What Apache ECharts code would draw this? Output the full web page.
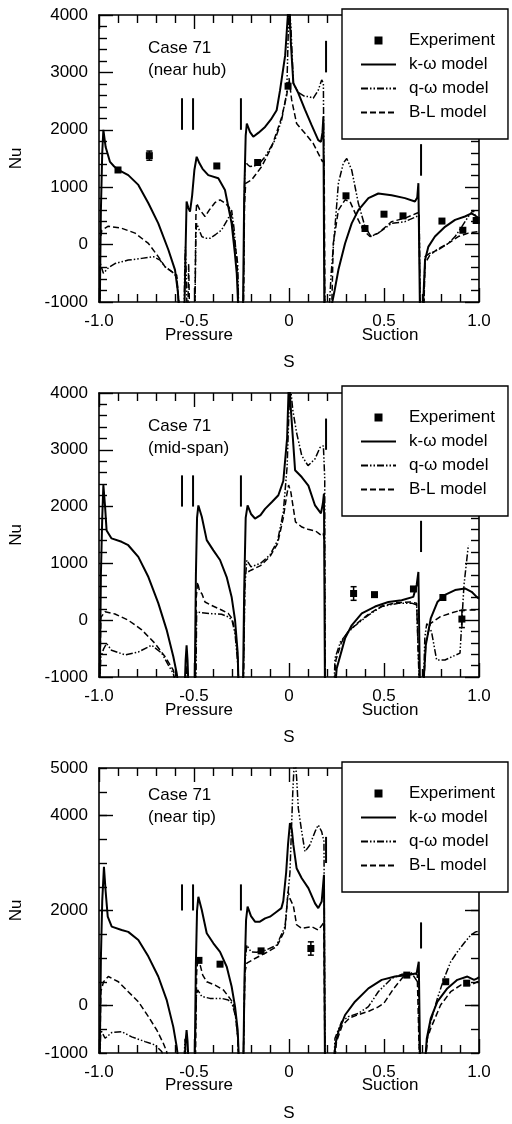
<!DOCTYPE html>
<html>
<head>
<meta charset="utf-8">
<script src="https://cdn.jsdelivr.net/npm/echarts@6/dist/echarts.min.js"></script>
<style>
html, body { margin: 0; padding: 0; background: #fff; }
#main { width: 512px; height: 1124px; }
</style>
</head>
<body>
<div id="main"></div>
<script>
// names shown in the legend
var seriesNames = ['Experiment', 'k-ω model', 'q-ω model', 'B-L model'];

// short vertical marks above the curves: [s, Nu from, Nu to]
var markers = [[-0.563, 2000, 2550], [-0.505, 2000, 2550], [-0.253, 2000, 2550], [0.195, 3000, 3550], [0.695, 1200, 1750]];

// ---- Case 71, near hub ----
var hubExp = [[-0.9,1300],[-0.735,1550],[-0.38,1370],[-0.165,1430],[-0.005,2760],[0.3,850],[0.4,280],[0.5,530],[0.6,500],[0.805,410],[0.915,250],[0.985,420]];
var hubErr = [[-0.735,1470,1630]];
var hubKW = [
  [-0.996,-1100],[-0.99,600],[-0.983,1600],[-0.977,2000],[-0.965,1700],[-0.942,1440],[-0.92,1360],[-0.898,1300],[-0.846,1210],[-0.793,1040],[-0.74,720],[-0.688,370],[-0.635,-90],[-0.6,-440],[-0.586,-790],[-0.578,-1100],
  [-0.55,-1100],[-0.545,-200],[-0.539,750],[-0.53,640],[-0.521,575],[-0.51,850],[-0.498,1300],[-0.486,1530],[-0.472,1420],[-0.455,1320],[-0.425,1210],[-0.372,1155],[-0.337,950],[-0.302,370],[-0.285,-150],[-0.275,-500],[-0.267,-1100],
  [-0.242,-1100],[-0.236,800],[-0.228,1900],[-0.222,2110],[-0.205,1960],[-0.188,1880],[-0.16,1950],[-0.126,2050],[-0.095,2180],[-0.065,2340],[-0.047,2690],[-0.02,3300],[0,4300],[0.01,3500],[0.023,2810],[0.049,2640],[0.084,2350],[0.119,2080],[0.154,1820],[0.168,1790],[0.176,1950],[0.181,2230],[0.186,-1100],
  [0.222,-1100],[0.24,-800],[0.26,-440],[0.295,20],[0.33,370],[0.365,600],[0.418,810],[0.47,890],[0.54,860],[0.61,810],[0.663,750],[0.675,820],[0.681,1070],[0.689,-1100],
  [0.705,-1100],[0.716,-270],[0.733,-40],[0.768,140],[0.821,310],[0.874,430],[0.926,490],[0.961,545],[0.987,490],[1.0,460]
];
var hubQW = [
  [-0.996,-1100],[-0.993,-330],[-0.977,-500],[-0.95,-400],[-0.916,-330],[-0.846,-270],[-0.775,-240],[-0.714,-210],[-0.679,-270],[-0.653,-385],[-0.617,-470],[-0.591,-560],[-0.58,-1100],
  [-0.552,-1100],[-0.548,-300],[-0.545,-40],[-0.541,-500],[-0.537,-1100],
  [-0.495,-1100],[-0.49,200],[-0.486,370],[-0.472,250],[-0.459,140],[-0.44,110],[-0.416,110],[-0.385,180],[-0.355,254],[-0.32,457],[-0.302,600],[-0.29,300],[-0.28,-100],[-0.27,-330],[-0.265,-1100],
  [-0.24,-1100],[-0.234,1000],[-0.232,1475],[-0.22,1400],[-0.206,1360],[-0.185,1370],[-0.162,1390],[-0.126,1530],[-0.074,1820],[-0.039,2170],[-0.012,2640],[0,4200],[0.01,3800],[0.023,2810],[0.05,2650],[0.084,2580],[0.102,2580],[0.128,2550],[0.154,2690],[0.172,2870],[0.181,2810],[0.188,-1100],
  [0.212,-1100],[0.222,-500],[0.242,310],[0.26,1070],[0.286,1420],[0.304,1500],[0.33,1300],[0.365,720],[0.4,310],[0.432,140],[0.47,200],[0.54,370],[0.61,400],[0.672,490],[0.685,520],[0.69,-1100],
  [0.708,-1100],[0.716,-210],[0.742,-150],[0.786,-90],[0.838,20],[0.874,140],[0.909,310],[0.944,490],[0.97,600],[0.985,450],[1.0,370]
];
var hubBL = [
  [-0.996,-1100],[-0.993,100],[-0.985,250],[-0.951,320],[-0.881,285],[-0.81,200],[-0.74,20],[-0.688,-210],[-0.653,-385],[-0.617,-470],[-0.591,-530],[-0.578,-1100],
  [-0.532,-1100],[-0.528,-330],[-0.524,-1100],
  [-0.495,-1100],[-0.49,500],[-0.486,720],[-0.47,610],[-0.442,490],[-0.42,600],[-0.39,730],[-0.363,780],[-0.335,720],[-0.315,650],[-0.302,490],[-0.288,100],[-0.275,-210],[-0.27,-600],[-0.266,-1100],
  [-0.24,-1100],[-0.234,700],[-0.228,1067],[-0.197,1126],[-0.144,1358],[-0.091,1706],[-0.04,2200],[-0.012,2600],[0,2900],[0.014,2520],[0.04,2110],[0.084,1940],[0.128,1760],[0.163,1530],[0.177,1440],[0.185,1500],[0.189,-1100],
  [0.225,-1100],[0.233,20],[0.26,600],[0.295,780],[0.321,750],[0.356,490],[0.391,250],[0.426,140],[0.47,200],[0.54,400],[0.61,460],[0.672,545],[0.685,560],[0.69,-1100],
  [0.71,-1100],[0.716,-330],[0.742,-180],[0.786,-70],[0.838,20],[0.891,140],[0.944,200],[1.0,230]
];

// ---- Case 71, mid-span ----
var midExp = [[0.34,470],[0.45,450],[0.655,550],[0.81,400],[0.91,20]];
var midErr = [[0.34,350,590],[0.91,-130,170]];
var midKW = [
  [-0.996,-1100],[-0.99,800],[-0.983,1800],[-0.977,2380],[-0.968,2000],[-0.96,1580],[-0.934,1440],[-0.881,1380],[-0.846,1320],[-0.793,1115],[-0.74,760],[-0.688,300],[-0.644,-170],[-0.609,-640],[-0.591,-935],[-0.584,-1100],
  [-0.548,-1100],[-0.544,-700],[-0.539,-440],[-0.534,-700],[-0.53,-1100],
  [-0.496,-1100],[-0.49,800],[-0.484,1800],[-0.477,2020],[-0.459,1820],[-0.433,1410],[-0.398,1230],[-0.363,1060],[-0.328,760],[-0.302,410],[-0.284,0],[-0.27,-580],[-0.266,-1100],
  [-0.242,-1100],[-0.236,500],[-0.228,1800],[-0.218,2020],[-0.2,1870],[-0.179,1790],[-0.15,1850],[-0.126,1960],[-0.09,2080],[-0.056,2200],[-0.03,2450],[-0.01,3200],[0,4300],[0.01,3700],[0.023,3080],[0.032,2640],[0.067,2520],[0.102,2370],[0.137,2020],[0.168,1880],[0.178,2050],[0.184,2230],[0.189,-1100],
  [0.245,-1100],[0.251,-850],[0.295,-320],[0.33,-90],[0.383,120],[0.453,240],[0.523,320],[0.593,350],[0.654,410],[0.672,620],[0.681,850],[0.689,-1100],
  [0.708,-1100],[0.72,-440],[0.746,30],[0.781,320],[0.818,440],[0.874,530],[0.926,560],[0.961,500],[0.988,410],[1.0,380]
];
var midQW = [
  [-0.996,-1100],[-0.99,-640],[-0.975,-500],[-0.96,-410],[-0.934,-530],[-0.863,-610],[-0.793,-560],[-0.723,-440],[-0.67,-580],[-0.635,-790],[-0.609,-935],[-0.6,-1100],
  [-0.497,-1100],[-0.493,-760],[-0.49,-1100],
  [-0.488,-1100],[-0.486,150],[-0.459,130],[-0.407,115],[-0.355,105],[-0.32,60],[-0.3,0],[-0.284,-235],[-0.27,-760],[-0.265,-1100],
  [-0.24,-1100],[-0.232,600],[-0.222,1056],[-0.2,940],[-0.15,1000],[-0.1,1150],[-0.06,1400],[-0.03,1900],[-0.01,2700],[0.005,4200],[0.02,3700],[0.04,3300],[0.067,2900],[0.1,2720],[0.137,2840],[0.163,3040],[0.181,3070],[0.188,2500],[0.19,-1100],
  [0.238,-1100],[0.242,-670],[0.271,-380],[0.306,-230],[0.35,-90],[0.418,90],[0.488,240],[0.576,300],[0.646,300],[0.672,270],[0.68,300],[0.685,-1100],
  [0.708,-1100],[0.715,-300],[0.725,-60],[0.733,-30],[0.75,-200],[0.777,-700],[0.821,-700],[0.86,-640],[0.9,-580],[0.921,620],[0.944,1320]
];
var midBL = [
  [-0.996,-1100],[-0.99,50],[-0.968,150],[-0.916,110],[-0.846,0],[-0.775,-170],[-0.705,-410],[-0.653,-640],[-0.609,-880],[-0.595,-1100],
  [-0.545,-1100],[-0.541,-800],[-0.537,-1100],
  [-0.492,-1100],[-0.488,400],[-0.481,670],[-0.47,500],[-0.459,470],[-0.442,320],[-0.407,260],[-0.355,180],[-0.32,120],[-0.3,30],[-0.284,-180],[-0.27,-640],[-0.265,-1100],
  [-0.24,-1100],[-0.232,820],[-0.2,880],[-0.15,960],[-0.1,1120],[-0.06,1350],[-0.03,1800],[-0.012,2200],[-0.002,2380],[0.01,2250],[0.034,1730],[0.068,1640],[0.1,1600],[0.14,1570],[0.167,1500],[0.18,1530],[0.187,1400],[0.19,-1100],
  [0.24,-1100],[0.247,-700],[0.275,-400],[0.31,-200],[0.36,-50],[0.42,110],[0.49,250],[0.57,310],[0.64,320],[0.672,300],[0.68,330],[0.686,-1100],
  [0.71,-1100],[0.72,-400],[0.744,-60],[0.795,60],[0.847,120],[0.909,180],[0.988,180],[1.0,200]
];

// ---- Case 71, near tip ----
var tipExp = [[-0.474,950],[-0.363,870],[-0.147,1150],[0.115,1200],[0.62,640],[0.825,500],[0.935,470]];
var tipErr = [[0.115,1060,1340]];
var tipKW = [
  [-0.996,-1100],[-0.99,1000],[-0.983,2200],[-0.974,2920],[-0.965,2400],[-0.954,1870],[-0.933,1660],[-0.881,1590],[-0.846,1550],[-0.793,1380],[-0.74,1030],[-0.688,610],[-0.644,120],[-0.609,-450],[-0.591,-870],[-0.584,-1100],
  [-0.548,-1100],[-0.544,-750],[-0.539,-520],[-0.534,-750],[-0.53,-1100],
  [-0.496,-1100],[-0.49,900],[-0.484,2000],[-0.477,2290],[-0.459,2010],[-0.433,1520],[-0.398,1310],[-0.363,1130],[-0.328,820],[-0.302,400],[-0.284,-25],[-0.27,-520],[-0.264,-1100],
  [-0.24,-1100],[-0.234,600],[-0.226,1800],[-0.218,2080],[-0.2,1880],[-0.179,1765],[-0.153,1765],[-0.126,1835],[-0.1,1870],[-0.065,1975],[-0.04,2050],[-0.03,2200],[-0.015,2800],[-0.005,3400],[0.005,3840],[0.015,3700],[0.023,3380],[0.04,2890],[0.067,2680],[0.102,2470],[0.137,2150],[0.154,2050],[0.172,2190],[0.184,2750],[0.189,-1100],
  [0.238,-1100],[0.245,-800],[0.26,-550],[0.295,-200],[0.347,80],[0.418,360],[0.488,540],[0.558,610],[0.628,640],[0.672,680],[0.683,920],[0.69,-1100],
  [0.718,-1100],[0.725,-700],[0.746,-270],[0.781,80],[0.833,360],[0.886,540],[0.939,610],[0.974,540],[0.991,570],[1.0,600]
];
var tipQW = [
  [-0.996,-1100],[-0.99,-520],[-0.968,-690],[-0.933,-570],[-0.881,-550],[-0.828,-660],[-0.758,-760],[-0.705,-830],[-0.67,-970],[-0.66,-1100],
  [-0.552,-1100],[-0.547,-700],[-0.543,-1100],
  [-0.495,-1100],[-0.488,200],[-0.481,330],[-0.459,190],[-0.416,150],[-0.355,150],[-0.32,115],[-0.3,45],[-0.281,-235],[-0.27,-660],[-0.265,-1100],
  [-0.24,-1100],[-0.232,900],[-0.222,1270],[-0.2,1130],[-0.17,1120],[-0.126,1160],[-0.065,1270],[-0.021,1660],[0.005,2800],[0.02,4500],[0.03,5300],[0.04,4800],[0.049,4150],[0.067,3660],[0.084,3240],[0.11,3380],[0.137,3660],[0.154,3800],[0.172,3660],[0.184,3450],[0.19,-1100],
  [0.238,-1100],[0.242,-690],[0.277,-340],[0.312,-235],[0.365,-165],[0.418,-25],[0.47,290],[0.54,570],[0.593,656],[0.646,680],[0.681,470],[0.687,-1100],
  [0.72,-1100],[0.728,-700],[0.746,-340],[0.781,150],[0.816,570],[0.851,920],[0.886,1130],[0.921,1310],[0.956,1480],[0.982,1550],[1.0,1560]
];
var tipBL = [
  [-0.996,-1100],[-0.99,300],[-0.976,500],[-0.951,610],[-0.898,500],[-0.846,290],[-0.793,80],[-0.74,-235],[-0.696,-516],[-0.661,-800],[-0.644,-970],[-0.638,-1100],
  [-0.492,-1100],[-0.486,700],[-0.481,920],[-0.47,890],[-0.454,640],[-0.433,500],[-0.389,430],[-0.346,330],[-0.311,150],[-0.293,45],[-0.281,-235],[-0.27,-660],[-0.266,-1100],
  [-0.24,-1100],[-0.232,700],[-0.222,890],[-0.179,990],[-0.126,1100],[-0.065,1240],[-0.021,1590],[-0.005,2400],[0.005,2250],[0.023,2100],[0.04,1700],[0.067,1625],[0.119,1660],[0.154,1590],[0.175,1700],[0.183,1750],[0.189,-1100],
  [0.242,-1100],[0.25,-760],[0.28,-420],[0.32,-260],[0.36,-200],[0.42,-120],[0.47,-30],[0.5,50],[0.55,350],[0.6,600],[0.65,690],[0.675,650],[0.686,-1100],
  [0.72,-1100],[0.728,-700],[0.746,-480],[0.798,10],[0.851,290],[0.904,430],[0.956,430],[0.991,500],[1.0,510]
];

var FONT = '"Liberation Sans", Arial, Helvetica, sans-serif';

var panels = [
  { top: 15,  height: 287, ymax: 4000, sub: '(near hub)', caseY: 50,  wordY: 335,  legTop: 9,
    exp: hubExp, err: hubErr, kw: hubKW, qw: hubQW, bl: hubBL },
  { top: 393, height: 284, ymax: 4000, sub: '(mid-span)', caseY: 428, wordY: 710,  legTop: 386,
    exp: midExp, err: midErr, kw: midKW, qw: midQW, bl: midBL },
  { top: 768, height: 285, ymax: 5000, sub: '(near tip)', caseY: 797, wordY: 1085, legTop: 762,
    exp: tipExp, err: tipErr, kw: tipKW, qw: tipQW, bl: tipBL }
];

var chart = echarts.init(document.getElementById('main'));

var option = { animation: false, grid: [], xAxis: [], yAxis: [], series: [], legend: [], graphic: [] };

function tickLine() { return { color: '#000', width: 1.4 }; }
function labelFont() { return { color: '#000', fontSize: 17, fontFamily: FONT }; }

function xAxisFor(g, pos) {
  return {
    type: 'value', gridIndex: g, position: pos, min: -1, max: 1, interval: 0.5,
    axisLine: { show: true, onZero: false, lineStyle: { color: '#000', width: 1.6 } },
    axisTick: { show: true, inside: true, length: 14, lineStyle: tickLine() },
    minorTick: { show: true, splitNumber: 5, length: 8, lineStyle: tickLine() },
    splitLine: { show: false },
    axisLabel: pos === 'bottom' ? {
      show: true, margin: 11, color: '#000', fontSize: 17, fontFamily: FONT,
      showMinLabel: true, showMaxLabel: true,
      formatter: function (v) { return v === 0 ? '0' : v.toFixed(1); }
    } : { show: false },
    name: pos === 'bottom' ? 'S' : '',
    nameLocation: 'middle', nameGap: 52,
    nameTextStyle: labelFont()
  };
}

function yAxisFor(g, pos, p) {
  var a = {
    type: 'value', gridIndex: g, position: pos, min: -1000, max: p.ymax, interval: 1000,
    axisLine: { show: true, onZero: false, lineStyle: { color: '#000', width: 1.6 } },
    axisTick: { show: true, inside: true, length: 14, lineStyle: tickLine() },
    minorTick: { show: true, splitNumber: 5, length: 8, lineStyle: tickLine() },
    splitLine: { show: false },
    axisLabel: pos === 'left' ? {
      show: true, margin: 11, color: '#000', fontSize: 17, fontFamily: FONT,
      showMinLabel: true, showMaxLabel: true,
      formatter: function (v) { return String(v); }
    } : { show: false },
    name: pos === 'left' ? 'Nu' : '',
    nameLocation: 'middle', nameGap: 74, nameRotate: 90,
    nameTextStyle: labelFont()
  };
  if (p.ymax === 5000) {
    a.minorTick = { show: false };
    a.axisTick.customValues = [0, 2000, 4000];
    if (pos === 'left') a.axisLabel.customValues = [-1000, 0, 2000, 4000, 5000];
  }
  return a;
}

// extra axis carrying only the short 500-step ticks of the lower panel
function shortTickAxis(g, pos, p) {
  return {
    type: 'value', gridIndex: g, position: pos, min: -1000, max: p.ymax, interval: 500,
    axisLine: { show: false, onZero: false },
    axisTick: { show: true, inside: true, length: 8, lineStyle: tickLine() },
    axisLabel: { show: false },
    splitLine: { show: false }
  };
}

var legendData = [
  { name: seriesNames[0], icon: 'path://M0,0L10,0L10,10L0,10Z', itemStyle: { color: '#000' } },
  { name: seriesNames[1], itemStyle: { opacity: 0 } },
  { name: seriesNames[2], itemStyle: { opacity: 0 } },
  { name: seriesNames[3], itemStyle: { opacity: 0 } }
];

function vmarkItem(params, api) {
  var a = api.coord([api.value(0), api.value(1)]);
  var b = api.coord([api.value(0), api.value(2)]);
  return { type: 'line', shape: { x1: a[0], y1: a[1], x2: b[0], y2: b[1] },
           style: { stroke: '#000', lineWidth: 2 } };
}

function errItem(params, api) {
  var a = api.coord([api.value(0), api.value(1)]);
  var b = api.coord([api.value(0), api.value(2)]);
  var st = { stroke: '#000', lineWidth: 1.5 };
  return { type: 'group', children: [
    { type: 'line', shape: { x1: a[0], y1: a[1], x2: b[0], y2: b[1] }, style: st },
    { type: 'line', shape: { x1: a[0] - 3, y1: a[1], x2: a[0] + 3, y2: a[1] }, style: st },
    { type: 'line', shape: { x1: b[0] - 3, y1: b[1], x2: b[0] + 3, y2: b[1] }, style: st }
  ] };
}

panels.forEach(function (p, g) {
  option.grid.push({ left: 99, top: p.top, width: 380, height: p.height });
  var xi = option.xAxis.length;
  option.xAxis.push(xAxisFor(g, 'bottom'));
  option.xAxis.push(xAxisFor(g, 'top'));
  var yi = option.yAxis.length;
  option.yAxis.push(yAxisFor(g, 'left', p));
  option.yAxis.push(yAxisFor(g, 'right', p));
  if (p.ymax === 5000) {
    option.yAxis.push(shortTickAxis(g, 'left', p));
    option.yAxis.push(shortTickAxis(g, 'right', p));
  }

  option.series.push({
    name: seriesNames[0], type: 'scatter', xAxisIndex: xi, yAxisIndex: yi,
    symbol: 'rect', symbolSize: 7, itemStyle: { color: '#000', opacity: 1 }, z: 6, data: p.exp
  });
  option.series.push({
    name: seriesNames[1], type: 'line', xAxisIndex: xi, yAxisIndex: yi, symbol: 'none',
    itemStyle: { color: '#000' },
    lineStyle: { color: '#000', width: 2, type: 'solid' }, z: 4, data: p.kw
  });
  option.series.push({
    name: seriesNames[2], type: 'line', xAxisIndex: xi, yAxisIndex: yi, symbol: 'none',
    itemStyle: { color: '#000' },
    lineStyle: { color: '#000', width: 1.5, type: [7, 2, 1.5, 2, 1.5, 2] }, z: 3, data: p.qw
  });
  option.series.push({
    name: seriesNames[3], type: 'line', xAxisIndex: xi, yAxisIndex: yi, symbol: 'none',
    itemStyle: { color: '#000' },
    lineStyle: { color: '#000', width: 1.5, type: [6, 3] }, z: 3, data: p.bl
  });
  option.series.push({
    type: 'custom', xAxisIndex: xi, yAxisIndex: yi, z: 5, silent: true,
    encode: { x: 0, y: [1, 2] }, data: markers, renderItem: vmarkItem
  });
  option.series.push({
    type: 'custom', xAxisIndex: xi, yAxisIndex: yi, z: 6, silent: true,
    encode: { x: 0, y: [1, 2] }, data: p.err, renderItem: errItem
  });

  option.legend.push({
    data: legendData, orient: 'vertical', left: 342, top: p.legTop,
    itemWidth: 35, itemHeight: 8, itemGap: 7,
    padding: [23, 13, 18, 18],
    backgroundColor: '#fff', borderColor: '#000', borderWidth: 1.4,
    selectedMode: false,
    textStyle: { color: '#000', fontSize: 17, fontFamily: FONT, padding: [0, 0, 0, 8] }
  });

  option.graphic.push(
    { type: 'text', left: 148, top: p.caseY - 10, style: { text: 'Case 71', fill: '#000', font: '17px ' + FONT } },
    { type: 'text', left: 148, top: p.caseY + 12, style: { text: p.sub, fill: '#000', font: '17px ' + FONT } },
    { type: 'text', x: 199, y: p.wordY, style: { text: 'Pressure', fill: '#000', font: '17px ' + FONT, textAlign: 'center', textVerticalAlign: 'middle' } },
    { type: 'text', x: 390, y: p.wordY, style: { text: 'Suction', fill: '#000', font: '17px ' + FONT, textAlign: 'center', textVerticalAlign: 'middle' } }
  );
});

chart.setOption(option);
</script>
</body>
</html>
